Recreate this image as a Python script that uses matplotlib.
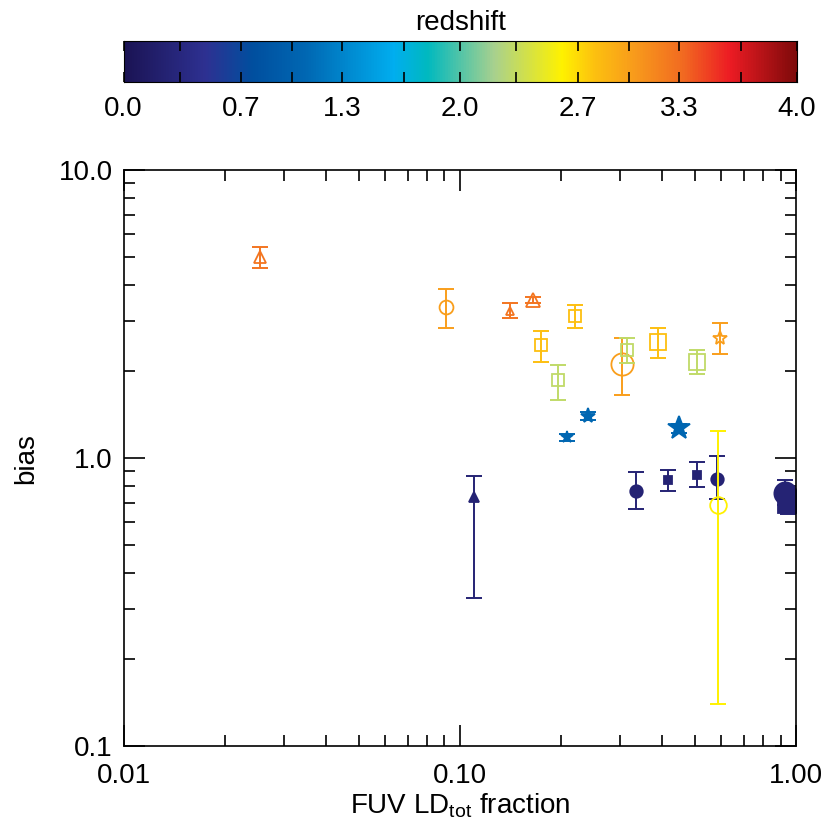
import matplotlib
matplotlib.use('Agg')
import matplotlib.pyplot as plt
import numpy as np
from matplotlib.colors import LinearSegmentedColormap, Normalize
from matplotlib.ticker import FixedLocator

plt.rcParams['font.family'] = ['Liberation Sans', 'DejaVu Sans']
plt.rcParams['mathtext.fontset'] = 'custom'
plt.rcParams['mathtext.rm'] = 'Liberation Sans'

# data
fuv_frac = [0.0254, 0.0908, 0.141, 0.165, 0.174, 0.196, 0.220, 0.209, 0.240,
            0.303, 0.314, 0.388, 0.507, 0.594, 0.449,
            0.110, 0.334, 0.416, 0.507, 0.582, 0.586, 0.93, 0.95]
bias = [4.99, 3.34, 3.24, 3.54, 2.47, 1.87, 3.11, 1.18, 1.40,
        2.12, 2.37, 2.53, 2.15, 2.61, 1.27,
        0.733, 0.767, 0.839, 0.873, 0.845, 0.687, 0.755, 0.698]
bias_hi = [5.41, 3.87, 3.45, 3.62, 2.76, 2.10, 3.40, 1.21, 1.45,
           2.61, 2.61, 2.83, 2.37, 2.94, 1.31,
           0.866, 0.893, 0.910, 0.968, 1.02, 1.24, 0.839, 0.76]
bias_lo = [4.57, 2.83, 3.06, 3.45, 2.15, 1.59, 2.83, 1.15, 1.36,
           1.66, 2.14, 2.22, 1.96, 2.30, 1.22,
           0.326, 0.665, 0.767, 0.793, 0.72, 0.140, 0.69, 0.64]
redshift = [3.25, 3.0, 3.25, 3.25, 2.8, 2.3, 2.8, 1.05, 1.05,
            3.0, 2.3, 2.8, 2.3, 3.0, 1.05,
            0.25, 0.25, 0.25, 0.25, 0.25, 2.6, 0.25, 0.25]
markers = ['^', 'o', '^', '^', 's', 's', 's', '*', '*',
           'o', 's', 's', 's', '*', '*',
           '^', 'o', 's', 's', 'o', 'o', 'o', 's']
sizes = [8, 10, 6, 10, 8, 8, 8, 9, 11,
         16, 8, 12, 12, 10, 17,
         7, 9, 6, 6, 9, 12, 16, 14]
filled = [False, False, False, False, False, False, False, True, True,
          False, False, False, False, False, True,
          True, True, True, True, True, False, True, True]

cb_ticks = [0.0, 0.7, 1.3, 2.0, 2.7, 3.3, 4.0]

stops = [(0.00, '#1b1454'), (0.12, '#2e3192'), (0.19, '#004f9f'),
         (0.27, '#0068b3'), (0.40, '#00aeef'), (0.45, '#00b9c0'),
         (0.55, '#a9d18e'), (0.65, '#fff200'), (0.70, '#fdc010'),
         (0.76, '#f89a1c'), (0.83, '#f26b21'), (0.90, '#ed1c24'),
         (1.00, '#7d0a0a')]
cmap = LinearSegmentedColormap.from_list('zmap', stops)
norm = Normalize(0, 4)

fig = plt.figure(figsize=(8.3, 8.3), dpi=100)
ax = fig.add_axes([0.149, 0.101, 0.810, 0.694])
cax = fig.add_axes([0.149, 0.901, 0.811, 0.050])

for i in range(len(fuv_frac)):
    c = cmap(norm(redshift[i]))
    yerr = [[bias[i] - bias_lo[i]], [bias_hi[i] - bias[i]]]
    ax.errorbar([fuv_frac[i]], [bias[i]], yerr=yerr, fmt='none', ecolor=c,
                elinewidth=1.4, capsize=6, capthick=1.4)
    ax.plot(fuv_frac[i], bias[i], marker=markers[i], ms=sizes[i],
            mfc=c if filled[i] else 'none', mec=c, mew=1.3, ls='none')

ax.set_xscale('log')
ax.set_yscale('log')
ax.set_xlim(0.01, 1.0)
ax.set_ylim(0.1, 10.0)
ax.set_xticks([0.01, 0.1, 1.0])
ax.set_xticklabels(['0.01', '0.10', '1.00'])
ax.set_yticks([0.1, 1.0, 10.0])
ax.set_yticklabels(['0.1', '1.0', '10.0'])
ax.tick_params(which='both', direction='in', top=True, right=True, width=1.2)
ax.tick_params(which='major', length=15, labelsize=20)
ax.tick_params(axis='x', which='major', pad=12)
ax.tick_params(axis='y', which='major', pad=8)
ax.tick_params(which='minor', length=8)
for s in ax.spines.values():
    s.set_linewidth(1.2)
ax.set_xlabel(r'FUV LD$_{\rm tot}$ fraction', fontsize=20, labelpad=2)
ax.set_ylabel('bias', fontsize=20, labelpad=14)

grad = np.linspace(0, 4, 512).reshape(1, -1)
cax.imshow(grad, aspect='auto', cmap=cmap, norm=norm, extent=[0, 4, 0, 1])
cax.set_xlim(0, 4)
cax.set_yticks([])
cax.set_xticks(cb_ticks)
cax.set_xticklabels(['%.1f' % t for t in cb_ticks])
cax.xaxis.set_minor_locator(FixedLocator([k * 4 / 12 for k in range(1, 12, 2)]))
cax.tick_params(which='both', direction='in', top=True, bottom=True, length=7,
                width=1.2, labelsize=20, pad=10)
cax.set_title('redshift', fontsize=20, pad=8)

fig.savefig('out.png', dpi=100)
